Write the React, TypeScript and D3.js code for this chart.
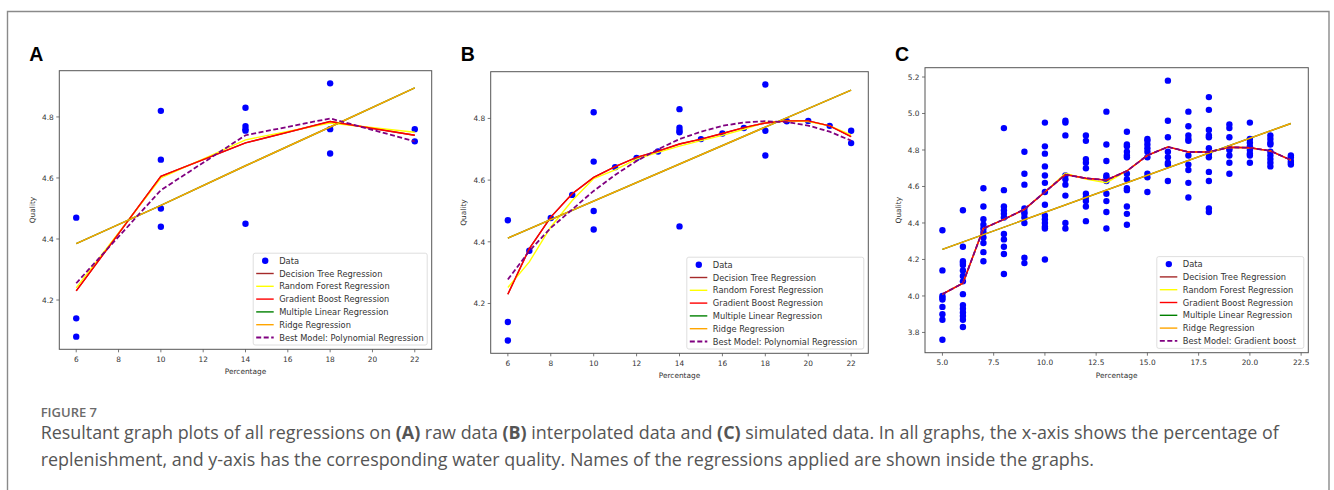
import React from 'react';
import * as d3 from 'd3';

// ---- panel A: raw data ----
const rawX = [6, 6, 6, 10, 10, 10, 10, 14, 14, 14, 14, 14, 18, 18, 18, 22, 22];
const rawY = [4.47, 4.14, 4.08, 4.82, 4.66, 4.5, 4.44, 4.83, 4.77, 4.76, 4.755, 4.45, 4.91, 4.76, 4.68, 4.76, 4.72];
const aLineX = [6, 10, 14, 18, 22];
const aTree = [4.23, 4.605, 4.715, 4.785, 4.74];
const aForest = [4.24, 4.6, 4.725, 4.78, 4.75];
const aBoost = [4.23, 4.605, 4.715, 4.785, 4.74];
const aLinear = [4.385, 4.51, 4.64, 4.767, 4.895];
const aRidge = [4.385, 4.51, 4.64, 4.767, 4.895];
const aBest = [4.255, 4.56, 4.74, 4.795, 4.72];

// ---- panel B: interpolated data ----
const interpX = [7, 8, 9, 11, 12, 13, 15, 16, 17, 19, 20, 21];
const interpY = [4.371, 4.477, 4.552, 4.642, 4.672, 4.693, 4.733, 4.751, 4.769, 4.791, 4.792, 4.776];
const bLineX = [6, 7, 8, 9, 10, 11, 12, 13, 14, 15, 16, 17, 18, 19, 20, 21, 22];
const bTree = [4.23, 4.378, 4.48, 4.556, 4.609, 4.644, 4.674, 4.694, 4.717, 4.733, 4.751, 4.77, 4.785, 4.792, 4.792, 4.776, 4.741];
const bForest = [4.252, 4.335, 4.448, 4.534, 4.605, 4.633, 4.668, 4.69, 4.71, 4.728, 4.745, 4.765, 4.787, 4.792, 4.79, 4.776, 4.747];
const bBoost = [4.23, 4.378, 4.48, 4.556, 4.609, 4.644, 4.674, 4.694, 4.717, 4.733, 4.751, 4.77, 4.785, 4.792, 4.792, 4.776, 4.741];
const bRidgeX = [6, 22];
const bLinear = [4.412, 4.892];
const bRidge = [4.412, 4.892];
const bBest = [4.278, 4.37, 4.445, 4.505, 4.565, 4.617, 4.662, 4.7, 4.733, 4.757, 4.776, 4.787, 4.791, 4.788, 4.777, 4.757, 4.728];

// ---- panel C: simulated data ----
const simX = [5, 6, 7, 8, 9, 10, 11, 12, 13, 14, 15, 16, 17, 18, 19, 20, 21, 22];
const simY = [
  [4.36, 4.14, 4.0, 3.99, 3.98, 3.94, 3.9, 3.87, 3.76],
  [4.47, 4.27, 4.19, 4.18, 4.17, 4.14, 4.11, 4.08, 4.01, 3.95, 3.93, 3.91, 3.89, 3.87, 3.83],
  [4.59, 4.49, 4.42, 4.39, 4.37, 4.35, 4.32, 4.29, 4.24, 4.19],
  [4.92, 4.58, 4.49, 4.47, 4.45, 4.43, 4.34, 4.31, 4.27, 4.23, 4.12],
  [4.79, 4.67, 4.61, 4.48, 4.46, 4.45, 4.43, 4.4, 4.21, 4.18],
  [4.95, 4.82, 4.78, 4.71, 4.66, 4.62, 4.57, 4.5, 4.44, 4.42, 4.4, 4.38, 4.37, 4.2],
  [4.96, 4.95, 4.88, 4.66, 4.64, 4.61, 4.55, 4.4, 4.37],
  [4.88, 4.85, 4.75, 4.73, 4.7, 4.56, 4.54, 4.52, 4.49, 4.41],
  [5.01, 4.83, 4.74, 4.66, 4.65, 4.63, 4.56, 4.52, 4.46, 4.37],
  [4.9, 4.83, 4.82, 4.79, 4.77, 4.76, 4.67, 4.64, 4.59, 4.58, 4.49, 4.45, 4.39],
  [4.86, 4.85, 4.83, 4.81, 4.79, 4.76, 4.67, 4.65, 4.57],
  [5.18, 4.96, 4.87, 4.79, 4.76, 4.73, 4.72, 4.63],
  [5.01, 4.93, 4.88, 4.86, 4.85, 4.77, 4.72, 4.69, 4.62, 4.54],
  [5.09, 5.02, 4.91, 4.88, 4.87, 4.81, 4.78, 4.76, 4.68, 4.63, 4.48, 4.46],
  [4.94, 4.92, 4.87, 4.81, 4.8, 4.77, 4.73, 4.67],
  [4.95, 4.86, 4.84, 4.82, 4.8, 4.78, 4.77, 4.73],
  [4.88, 4.86, 4.84, 4.83, 4.79, 4.77, 4.75, 4.73, 4.71],
  [4.77, 4.76, 4.74, 4.73, 4.72],
];
const cTree = [4.01, 4.07, 4.37, 4.42, 4.475, 4.57, 4.665, 4.645, 4.635, 4.685, 4.77, 4.817, 4.789, 4.789, 4.815, 4.812, 4.795, 4.745];
const cForest = [4.01, 4.07, 4.37, 4.42, 4.475, 4.57, 4.672, 4.64, 4.621, 4.685, 4.77, 4.817, 4.789, 4.789, 4.815, 4.812, 4.795, 4.745];
const cBoost = [4.01, 4.07, 4.37, 4.42, 4.475, 4.57, 4.665, 4.645, 4.635, 4.685, 4.77, 4.817, 4.789, 4.789, 4.815, 4.812, 4.795, 4.745];
const cRidgeX = [5, 22];
const cLinear = [4.255, 4.945];
const cRidge = [4.255, 4.945];
const cBest = [4.01, 4.07, 4.37, 4.42, 4.475, 4.57, 4.665, 4.645, 4.635, 4.685, 4.77, 4.817, 4.789, 4.789, 4.815, 4.812, 4.795, 4.745];

const legendNames = [
  'Decision Tree Regression',
  'Random Forest Regression',
  'Gradient Boost Regression',
  'Multiple Linear Regression',
  'Ridge Regression',
];
const lineColors = ['#a52a2a', '#ffff00', '#ff0000', '#008000', '#ffa500'];
const bestColor = '#800080';

const FONT = 'DejaVu Sans, sans-serif';
const FS = 7.4;
const LEG_FS = 8.3;

type Series = { xs: number[]; ys: number[]; color: string; dashed?: boolean; width?: number };

type PanelProps = {
  letter: string;
  box: { x0: number; x1: number; y0: number; y1: number };
  xDomain: [number, number];
  yDomain: [number, number];
  xTicks: number[];
  yTicks: number[];
  xFmt: (v: number) => string;
  points: [number, number][];
  series: Series[];
  bestName: string;
  legendW: number;
};

const Panel = ({ letter, box, xDomain, yDomain, xTicks, yTicks, xFmt, points, series, bestName, legendW }: PanelProps) => {
  const x = d3.scaleLinear().domain(xDomain).range([box.x0, box.x1]);
  const y = d3.scaleLinear().domain(yDomain).range([box.y1, box.y0]);
  const line = d3.line<[number, number]>().x(d => x(d[0])).y(d => y(d[1]));
  const yFmt = d3.format('.1f');

  const rowH = 12.8;
  const legH = rowH * 6 + 15;
  const lx = box.x1 - 4.5 - legendW;
  const ly = box.y1 - 4.3 - legH;
  const names = [...legendNames, bestName];
  const colors = [...lineColors, bestColor];

  return (
    <g>
      <text x={box.x0 - 30} y={61} fontFamily="Liberation Sans, Arial, sans-serif" fontWeight="bold" fontSize={19.5}>{letter}</text>
      <rect x={box.x0} y={box.y0} width={box.x1 - box.x0} height={box.y1 - box.y0} fill="#fff" />
      {points.map((p, i) => (
        <circle key={i} cx={x(p[0])} cy={y(p[1])} r={3.2} fill="#0000ff" />
      ))}
      {series.map((s, i) => (
        <path
          key={i}
          d={line(s.xs.map((v, j) => [v, s.ys[j]] as [number, number])) || ''}
          fill="none"
          stroke={s.color}
          strokeWidth={s.width || 1.4}
          strokeDasharray={s.dashed ? '5,2.5' : undefined}
        />
      ))}
      <rect x={box.x0} y={box.y0} width={box.x1 - box.x0} height={box.y1 - box.y0} fill="none" stroke="#555" strokeWidth={1} />
      {xTicks.map(t => (
        <g key={t}>
          <line x1={x(t)} x2={x(t)} y1={box.y1} y2={box.y1 + 3} stroke="#555" strokeWidth={0.8} />
          <text x={x(t)} y={box.y1 + 12.5} textAnchor="middle" fontFamily={FONT} fontSize={FS} fill="#333">{xFmt(t)}</text>
        </g>
      ))}
      {yTicks.map(t => (
        <g key={t}>
          <line x1={box.x0 - 3} x2={box.x0} y1={y(t)} y2={y(t)} stroke="#555" strokeWidth={0.8} />
          <text x={box.x0 - 5.5} y={y(t) + 2.7} textAnchor="end" fontFamily={FONT} fontSize={FS} fill="#333">{yFmt(t)}</text>
        </g>
      ))}
      <text x={(box.x0 + box.x1) / 2} y={box.y1 + 24.8} textAnchor="middle" fontFamily={FONT} fontSize={FS} fill="#333">Percentage</text>
      <text
        transform={`translate(${box.x0 - 24.5},${(box.y0 + box.y1) / 2}) rotate(-90)`}
        textAnchor="middle"
        fontFamily={FONT}
        fontSize={FS}
        fill="#333"
      >Quality</text>
      <rect x={lx} y={ly} width={legendW} height={legH} rx={2} fill="#fff" fillOpacity={0.85} stroke="#d6d6d6" strokeWidth={0.8} />
      <circle cx={lx + 12} cy={ly + 7.5} r={3.2} fill="#0000ff" />
      <text x={lx + 26} y={ly + 7.5 + 3} fontFamily={FONT} fontSize={LEG_FS} fill="#333">Data</text>
      {names.map((n, i) => {
        const ry = ly + 7.5 + rowH * (i + 1);
        return (
          <g key={n}>
            <line x1={lx + 3} x2={lx + 20.5} y1={ry} y2={ry} stroke={colors[i]} strokeWidth={i === 5 ? 1.8 : 1.4} strokeDasharray={i === 5 ? '5,2.5' : undefined} />
            <text x={lx + 26} y={ry + 3} fontFamily={FONT} fontSize={LEG_FS} fill="#333">{n}</text>
          </g>
        );
      })}
    </g>
  );
};

const mk = (xs: number[], lists: number[][], best: number[], rx: number[] = xs): Series[] => [
  { xs, ys: lists[0], color: lineColors[0] },
  { xs, ys: lists[1], color: lineColors[1] },
  { xs, ys: lists[2], color: lineColors[2] },
  { xs: rx, ys: lists[3], color: lineColors[3] },
  { xs: rx, ys: lists[4], color: lineColors[4] },
  { xs, ys: best, color: bestColor, dashed: true, width: 1.8 },
];

const App = () => {
  const evenTicks = [6, 8, 10, 12, 14, 16, 18, 20, 22];
  const ptsA: [number, number][] = rawX.map((v, i) => [v, rawY[i]]);
  const ptsB: [number, number][] = [...ptsA, ...interpX.map((v, i) => [v, interpY[i]] as [number, number])];
  const ptsC: [number, number][] = simX.flatMap((v, i) => simY[i].map(q => [v, q] as [number, number]));

  return (
    <div style={{ position: 'absolute', left: 0, top: 0, width: 1334, height: 490, background: '#fff' }}>
      <svg width={1334} height={490} style={{ display: 'block' }}>
        <rect x={0} y={0} width={1334} height={490} fill="#fff" />
        <path d="M7.5,495 V11.5 H1329 V495" fill="none" stroke="#8a8a8a" strokeWidth={1.4} />
        <Panel
          letter="A"
          box={{ x0: 59.3, x1: 431.7, y0: 70.7, y1: 349.3 }}
          xDomain={[5.2, 22.8]}
          yDomain={[4.0385, 4.9515]}
          xTicks={evenTicks}
          yTicks={[4.2, 4.4, 4.6, 4.8]}
          xFmt={d3.format('d')}
          points={ptsA}
          series={mk(aLineX, [aTree, aForest, aBoost, aLinear, aRidge], aBest)}
          bestName="Best Model: Polynomial Regression"
          legendW={174}
        />
        <Panel
          letter="B"
          box={{ x0: 490.7, x1: 868.3, y0: 71.7, y1: 353.3 }}
          xDomain={[5.2, 22.8]}
          yDomain={[4.0385, 4.9515]}
          xTicks={evenTicks}
          yTicks={[4.2, 4.4, 4.6, 4.8]}
          xFmt={d3.format('d')}
          points={ptsB}
          series={mk(bLineX, [bTree, bForest, bBoost, bLinear, bRidge], bBest, bRidgeX)}
          bestName="Best Model: Polynomial Regression"
          legendW={177}
        />
        <Panel
          letter="C"
          box={{ x0: 925, x1: 1308.3, y0: 67.7, y1: 352.7 }}
          xDomain={[4.15, 22.85]}
          yDomain={[3.689, 5.251]}
          xTicks={[5, 7.5, 10, 12.5, 15, 17.5, 20, 22.5]}
          yTicks={[3.8, 4.0, 4.2, 4.4, 4.6, 4.8, 5.0, 5.2]}
          xFmt={d3.format('.1f')}
          points={ptsC}
          series={mk(simX, [cTree, cForest, cBoost, cLinear, cRidge], cBest, cRidgeX)}
          bestName="Best Model: Gradient boost"
          legendW={147}
        />
        <text x={40.7} y={417.3} fontFamily="Open Sans, sans-serif" fontWeight={600} fontSize={13} fill="#6b6b6b">FIGURE 7</text>
        <text x={40.7} y={439.3} fontFamily="Open Sans, sans-serif" fontSize={17.9} fill="#555">
          Resultant graph plots of all regressions on <tspan fontWeight={700}>(A)</tspan> raw data <tspan fontWeight={700}>(B)</tspan> interpolated data and <tspan fontWeight={700}>(C)</tspan> simulated data. In all graphs, the x-axis shows the percentage of
        </text>
        <text x={40.7} y={465.5} fontFamily="Open Sans, sans-serif" fontSize={17.9} fill="#555">
          replenishment, and y-axis has the corresponding water quality. Names of the regressions applied are shown inside the graphs.
        </text>
      </svg>
    </div>
  );
};

export default App;
